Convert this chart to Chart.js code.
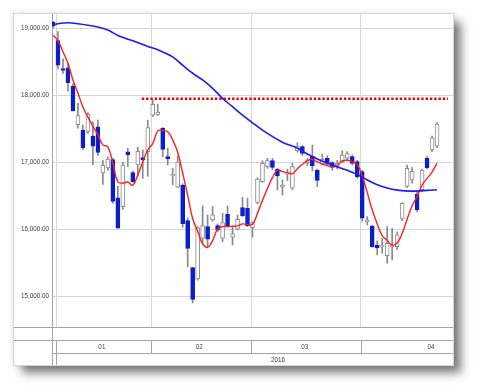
<!DOCTYPE html>
<html>
<head>
<meta charset="utf-8">
<script src="https://cdn.jsdelivr.net/npm/chart.js@4.4.1/dist/chart.umd.min.js"></script>
<style>
  html, body { margin: 0; background: #fff; }
  #panel {
    position: absolute; left: 14px; top: 14px; width: 439px; height: 351px; background: #fff;
    box-shadow: 0 0 0 1px #d6d6d6, 0 0 7px rgba(0, 0, 0, 0.16), 8px 8px 9px rgba(0, 0, 0, 0.5);
  }
  canvas { display: block; }
</style>
</head>
<body>
<div id="panel"><canvas id="chart" width="439" height="351"></canvas></div>
<script>
// trading days, 2015/12/30 .. 2016/04/22
const days = [
  '12/30',
  '01/04', '01/05', '01/06', '01/07', '01/08', '01/12', '01/13', '01/14', '01/15', '01/18',
  '01/19', '01/20', '01/21', '01/22', '01/25', '01/26', '01/27', '01/28', '01/29',
  '02/01', '02/02', '02/03', '02/04', '02/05', '02/08', '02/09', '02/10', '02/12', '02/15',
  '02/16', '02/17', '02/18', '02/19', '02/22', '02/23', '02/24', '02/25', '02/26', '02/29',
  '03/01', '03/02', '03/03', '03/04', '03/07', '03/08', '03/09', '03/10', '03/11', '03/14',
  '03/15', '03/16', '03/17', '03/18', '03/22', '03/23', '03/24', '03/25', '03/28', '03/29',
  '03/30', '03/31',
  '04/01', '04/04', '04/05', '04/06', '04/07', '04/08', '04/11', '04/12', '04/13', '04/14',
  '04/15', '04/18', '04/19', '04/20', '04/21', '04/22',
];

const open = [
  19090,
  18818, 18399, 18410, 18140, 17562, 17480, 17460, 17390, 17530, 16840,
  16915, 17040, 16470, 16338, 17158, 16845, 16960, 17070, 17160,
  17705, 17715, 17507, 17085, 16795, 16627, 16661, 16130, 15427, 15259,
  15866, 16040, 16139, 16055, 15866, 16224, 15881, 16005, 16323, 16313,
  16025, 16400, 16710, 16935, 17025, 16895, 16630, 16821, 16612, 17169,
  17233, 16995, 17094, 16880, 16975, 17060, 16995, 16935, 17010, 17060,
  17085, 17010,
  16860, 16110, 16049, 15760, 15740, 15607, 15740, 15740, 16154, 16640,
  16736, 16522, 16590, 17060, 17184, 17240,
];
const high = [
  19110,
  18951, 18547, 18469, 18172, 17880, 17555, 17740, 17605, 17630, 17030,
  17080, 17060, 16640, 17000, 17210, 16870, 17225, 17185, 17630,
  17930, 17870, 17520, 17210, 16910, 17094, 16680, 16170, 15430, 16040,
  16348, 16214, 16338, 16080, 16239, 16348, 16040, 16214, 16478, 16463,
  16110, 16770, 17025, 17060, 17060, 16910, 16736, 16896, 16985, 17293,
  17250, 17060, 17258, 16900, 17124, 17100, 17010, 17030, 17174, 17160,
  17110, 17030,
  16880, 16188, 16060, 15826, 15865, 16040, 16015, 15960, 16400, 16960,
  16920, 16560, 16900, 17094, 17393, 17591,
];
const low = [
  19010,
  18394, 18328, 18064, 17767, 17510, 17190, 17430, 16960, 17100, 16670,
  16880, 16390, 16017, 16300, 16935, 16700, 16790, 16760, 16790,
  17680, 17700, 17085, 16960, 16660, 16620, 16030, 15440, 14900, 15240,
  15790, 15740, 16120, 15960, 15815, 16040, 15766, 15990, 16190, 16040,
  15881, 16380, 16700, 16910, 16890, 16587, 16512, 16726, 16590, 17150,
  17100, 16950, 16870, 16636, 16960, 16960, 16880, 16900, 16990, 17030,
  16960, 16760,
  16120, 16065, 15730, 15617, 15642, 15493, 15542, 15700, 16130, 16620,
  16690, 16260, 16570, 16900, 17160, 17220,
];
const close = [
  19034,
  18451, 18374, 18191, 17767, 17698, 17219, 17716, 17241, 17147, 16956,
  17048, 16416, 16017, 16958, 17111, 16709, 17164, 17041, 17518,
  17865, 17751, 17191, 17050, 16820, 17004, 16085, 15713, 14953, 16023,
  16054, 15851, 16214, 15990, 16099, 16055, 15930, 16150, 16203, 16055,
  16099, 16750, 16985, 17025, 16925, 16796, 16661, 16845, 16935, 17233,
  17134, 17025, 16945, 16731, 17045, 16985, 16925, 16985, 17109, 17130,
  16985, 16785,
  16164, 16140, 15740, 15720, 15755, 15791, 15765, 15915, 16388, 16910,
  16866, 16288, 16885, 16920, 17367, 17571,
];

// short moving average (red), one value per day
const shortMa = [
  18900, 18815, 18650, 18480, 18230, 18035, 17825, 17675, 17540, 17410,
  17260, 17230, 16990, 16705, 16690, 16705, 16660, 16810, 17005, 17185,
  17280, 17470, 17475, 17455, 17335, 17150, 16840, 16510, 16160, 15970,
  15780, 15730, 15830, 16005, 16040, 16040, 16045, 16050, 16080, 16070,
  16075, 16240, 16430, 16610, 16770, 16885, 16860, 16845, 16830, 16905,
  16970, 17025, 17045, 17005, 16975, 16950, 16935, 16955, 17020, 17030,
  17005, 16970, 16795, 16550, 16290, 16080, 15905, 15835, 15765, 15795,
  15935, 16150, 16350, 16490, 16660, 16760, 16855, 16990,
];

// long moving average (blue), read at these day indexes
const longMaDays = [0, 3, 5, 9, 11, 13, 16, 19, 21, 24, 26, 28, 30, 32, 34, 36, 38,
  40, 42, 46, 49, 51, 53, 56, 59, 61, 63, 65, 67, 69, 72, 75, 77];
const longMaValues = [19060, 19085, 19070, 19020, 18975, 18895, 18815, 18730, 18680, 18575,
  18450, 18330, 18230, 18105, 17955, 17830, 17705, 17590, 17480, 17300, 17210, 17125,
  17050, 16960, 16880, 16820, 16735, 16665, 16615, 16585, 16570, 16580, 16590];

// dotted resistance line
const resistanceLevel = 17950;
const resistanceFrom = 17.8;
const resistanceTo = 79.2;

const yTicks = [15000, 16000, 17000, 18000, 19000];
const yearLabel = '2016';

const monthStarts = days.map((d, i) => i).filter(i => i > 0 && days[i].slice(0, 2) !== days[i - 1].slice(0, 2));
const monthLabels = monthStarts.map(i => days[i].slice(0, 2));
const monthLabelAt = [9.8, 29.3, 50.5, 75.8];
const yearLabelAt = 45.1;

const BLUE = '#0a1ecc';
const fmt = v => v.toLocaleString('en-US', { minimumFractionDigits: 2, maximumFractionDigits: 2 });

// narrow text, like the bitmap font of the original
function label(ctx, text, x, y) {
    ctx.save();
    ctx.translate(x, y);
    ctx.scale(0.84, 1);
    ctx.fillText(text, 0, 0);
    ctx.restore();
}

const frame = {
    id: 'frame',
    afterDraw(chart) {
        const { ctx, chartArea: area, scales } = chart;
        const xs = scales.x, ys = scales.y;
        const w = chart.width, h = chart.height;
        const rowTop = area.bottom + 13;
        const rowMid = area.bottom + 26;
        const px = v => Math.round(v) + 0.5;
        ctx.save();
        ctx.strokeStyle = '#a4a4a4';
        ctx.lineWidth = 1;
        ctx.beginPath();
        ctx.moveTo(0, px(area.bottom)); ctx.lineTo(w, px(area.bottom));
        ctx.moveTo(0, px(rowTop)); ctx.lineTo(w, px(rowTop));
        ctx.moveTo(area.left, px(rowMid)); ctx.lineTo(w, px(rowMid));
        ctx.moveTo(px(area.left), area.bottom); ctx.lineTo(px(area.left), h);
        monthStarts.forEach((d, i) => {
            const x = px(xs.getPixelForValue(d - 0.3));
            ctx.moveTo(x, rowTop); ctx.lineTo(x, i === 0 ? h : rowMid);
        });
        ctx.stroke();

        ctx.fillStyle = '#404040';
        ctx.font = '7.5px "Liberation Sans", Arial, sans-serif';
        ctx.textAlign = 'right';
        ctx.textBaseline = 'middle';
        yTicks.forEach(v => label(ctx, fmt(v), area.left - 3, ys.getPixelForValue(v)));
        ctx.textAlign = 'center';
        monthLabels.forEach((m, i) => label(ctx, m, xs.getPixelForValue(monthLabelAt[i]), (rowTop + rowMid) / 2 + 0.5));
        label(ctx, yearLabel, xs.getPixelForValue(yearLabelAt), (rowMid + h) / 2 + 0.5);
        ctx.restore();
    },
};

new Chart(document.getElementById('chart'), {
    type: 'bar',
    data: {
        datasets: [
            {
                type: 'line',
                label: 'MA long',
                data: longMaDays.map((d, i) => ({ x: d, y: longMaValues[i] })),
                borderColor: '#1c1cf2',
                borderWidth: 1.6,
                pointRadius: 0,
                cubicInterpolationMode: 'monotone',
                order: 0,
            },
            {
                type: 'line',
                label: 'MA short',
                data: days.map((d, i) => ({ x: i, y: shortMa[i] })),
                borderColor: '#ff1e1e',
                borderWidth: 1.4,
                pointRadius: 0,
                tension: 0.4,
                order: 1,
            },
            {
                type: 'line',
                label: 'Resistance',
                data: [{ x: resistanceFrom, y: resistanceLevel }, { x: resistanceTo, y: resistanceLevel }],
                borderColor: '#f00000',
                borderWidth: 2.4,
                borderDash: [2.4, 1.9],
                pointRadius: 0,
                order: 2,
            },
            {
                type: 'bar',
                label: 'Body',
                data: days.map((d, i) => ({ x: i, y: [open[i], close[i]] })),
                backgroundColor: (c) => close[c.dataIndex] >= open[c.dataIndex] ? '#ffffff' : BLUE,
                borderColor: (c) => close[c.dataIndex] >= open[c.dataIndex] ? '#8c8c8c' : BLUE,
                borderWidth: 1,
                borderSkipped: false,
                barThickness: 4,
                grouped: false,
                order: 3,
            },
            {
                type: 'bar',
                label: 'Wick',
                data: days.map((d, i) => ({ x: i, y: [low[i], high[i]] })),
                backgroundColor: '#8a8a8a',
                barThickness: 1,
                grouped: false,
                order: 4,
            },
        ],
    },
    options: {
        responsive: false,
        animation: false,
        layout: { padding: { top: 0, right: 0, bottom: 38, left: 0 } },
        plugins: { legend: { display: false }, tooltip: { enabled: false } },
        scales: {
            x: {
                type: 'linear',
                min: -0.2,
                max: 80.2,
                offset: false,
                afterBuildTicks: (s) => { s.ticks = monthStarts.map(i => ({ value: i - 0.3 })); },
                ticks: { display: false },
                grid: { color: '#d6d6d6', drawTicks: false, offset: false },
                border: { color: '#a4a4a4' },
            },
            y: {
                min: 14540,
                max: 19215,
                afterBuildTicks: (s) => { s.ticks = yTicks.map(v => ({ value: v })); },
                afterFit: (s) => { s.width = 38; },
                ticks: { display: false },
                grid: { color: '#d6d6d6', drawTicks: false },
                border: { color: '#a4a4a4' },
            },
        },
    },
    plugins: [frame],
});
</script>
</body>
</html>
